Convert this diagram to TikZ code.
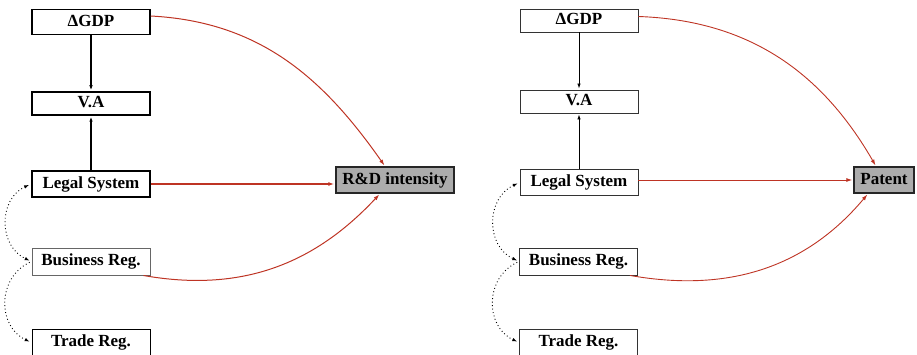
\documentclass[tikz,border=0pt]{standalone}
\usepackage{fontspec}
\setmainfont{Liberation Serif}
\usetikzlibrary{arrows.meta}
\definecolor{linkred}{RGB}{190,52,36}
\definecolor{boxgray}{RGB}{172,172,172}
\tikzset{
  vbox/.style={draw=black, line width=#1, fill=white, minimum width=118pt, inner sep=0pt,
    font=\fontsize{17}{19}\selectfont\bfseries, text height=12pt, text depth=3.5pt},
  vbox/.default=1.3pt,
  outbox/.style={draw=black!85, line width=1.4pt, fill=boxgray, inner sep=0pt,
    font=\fontsize{17}{19}\selectfont\bfseries, text height=12pt, text depth=3.5pt},
  blk/.style={black, -{Latex[length=5pt,width=3.5pt]}, shorten >=1pt},
  red/.style={linkred, -{Latex[length=6pt,width=4pt]}, shorten >=1pt},
  dots/.style={black, line width=0.9pt, dash pattern=on 0.9pt off 2.6pt, shorten >=2pt, shorten <=2pt}
}
\begin{document}
\begin{tikzpicture}[x=1pt,y=-1pt]
\useasboundingbox (0,0) rectangle (917,355);
% left panel
\node[vbox=1.5pt, minimum height=25pt] (gdpL) at (91,22) {ΔGDP};
\node[vbox=1.5pt, minimum height=23pt] (vaL) at (91,103.5) {V.A};
\node[vbox=2pt, minimum height=26pt] (legL) at (91,184) {Legal System};
\node[vbox=1pt, draw=black!60, minimum height=27pt] (busL) at (91,261.5) {Business Reg.};
\node[vbox=1pt, minimum height=27pt] (traL) at (91,342.5) {Trade Reg.};
\node[outbox, minimum width=118pt, minimum height=26pt] (rdL) at (395,180) {R\&D intensity};

\draw[blk, line width=1.5pt] (gdpL.south) -- (vaL.north);
\draw[blk, line width=1.5pt] (legL.north) -- (vaL.south);
\draw[red, line width=1pt] ([yshift=6pt]gdpL.east) to[out=-3, in=125] ([xshift=-10pt]rdL.north);
\draw[red, line width=1.8pt] (legL.east) -- (legL.east -| rdL.west);
\draw[red, line width=1pt] ([xshift=-7pt]busL.south east) to[out=-10, in=-133] ([xshift=-15pt]rdL.south);
\draw[dots, {Latex[length=5pt,width=3.5pt]}-{Latex[length=5pt,width=3.5pt]}] (legL.west) to[out=205, in=155, looseness=1.2] (busL.west);
\draw[dots, -{Latex[length=5pt,width=3.5pt]}] (busL.west) to[out=205, in=155, looseness=1.2] (traL.west);

% right panel
\node[vbox=0.9pt, draw=black!80, minimum height=23pt] (gdpR) at (579,20.5) {ΔGDP};
\node[vbox=0.9pt, draw=black!80, minimum height=23pt] (vaR) at (579,101.5) {V.A};
\node[vbox=0.9pt, draw=black!80, minimum height=26pt] (legR) at (579,182.5) {Legal System};
\node[vbox=0.9pt, draw=black!80, minimum height=27pt] (busR) at (578.5,261.5) {Business Reg.};
\node[vbox=0.9pt, draw=black!80, minimum height=27pt] (traR) at (578.5,342.5) {Trade Reg.};
\node[outbox, minimum width=60pt, minimum height=26pt] (patR) at (884,180) {Patent};

\draw[blk, line width=0.8pt] (gdpR.south) -- (vaR.north);
\draw[blk, line width=0.8pt] (legR.north) -- (vaR.south);
\draw[red, line width=0.9pt] ([yshift=4pt]gdpR.east) to[out=-2, in=120] ([xshift=-8pt]patR.north);
\draw[red, line width=0.9pt] (legR.east |- patR.west) -- (patR.west);
\draw[red, line width=0.9pt] ([xshift=-8pt]busR.south east) to[out=-10, in=-130] ([xshift=-16pt]patR.south);
\draw[dots, {Latex[length=5pt,width=3.5pt]}-{Latex[length=5pt,width=3.5pt]}] (legR.west) to[out=205, in=155, looseness=1.2] (busR.west);
\draw[dots, -{Latex[length=5pt,width=3.5pt]}] (busR.west) to[out=205, in=155, looseness=1.2] (traR.west);
\end{tikzpicture}
\end{document}
